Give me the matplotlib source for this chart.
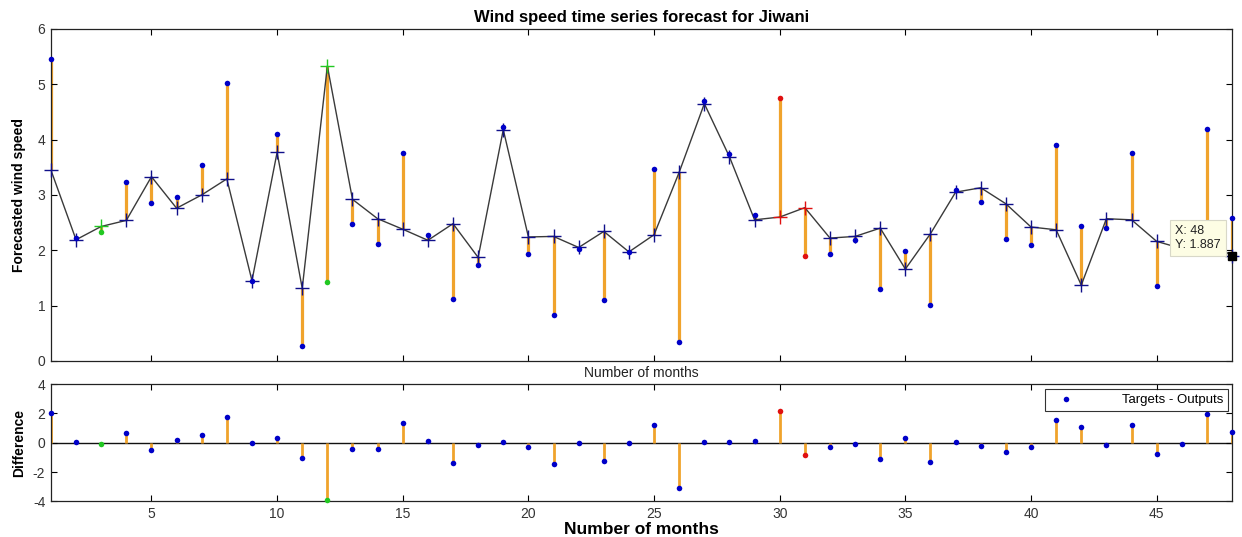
import numpy as np
import matplotlib
matplotlib.use('Agg')
import matplotlib.pyplot as plt
from matplotlib.lines import Line2D

plt.rcParams['font.family'] = ['Liberation Sans', 'DejaVu Sans']
plt.rcParams['axes.unicode_minus'] = False

# Monthly targets vs network outputs
months = np.arange(1, 49)
targets = [5.46, 2.23, 2.33, 3.24, 2.85, 2.97, 3.55, 5.02, 1.45, 4.10,
           0.26, 1.42, 2.48, 2.12, 3.76, 2.28, 1.12, 1.73, 4.23, 1.93,
           0.83, 2.03, 1.10, 1.96, 3.47, 0.34, 4.70, 3.74, 2.64, 4.76,
           1.90, 1.93, 2.19, 1.30, 1.99, 1.01, 3.09, 2.88, 2.20, 2.10,
           3.91, 2.43, 2.40, 3.76, 1.36, 1.96, 4.20, 2.59]
outputs = [3.45, 2.19, 2.43, 2.54, 3.33, 2.76, 3.00, 3.29, 1.45, 3.77,
           1.31, 5.33, 2.92, 2.57, 2.38, 2.18, 2.48, 1.87, 4.18, 2.24,
           2.25, 2.05, 2.34, 1.97, 2.28, 3.41, 4.65, 3.69, 2.55, 2.60,
           2.77, 2.22, 2.25, 2.40, 1.66, 2.30, 3.05, 3.13, 2.84, 2.42,
           2.37, 1.37, 2.57, 2.55, 2.16, 2.03, 2.23, 1.887]
# sample sets: train / validation / test
validation_months = [3, 12]
test_months = [30, 31]

x_ticks = [5, 10, 15, 20, 25, 30, 35, 40, 45]
top_y_ticks = [0, 1, 2, 3, 4, 5, 6]
bottom_y_ticks = [-4, -2, 0, 2, 4]

targets = np.array(targets)
outputs = np.array(outputs)
diff = targets - outputs

BLUE = '#0000c8'
NAVY = '#10108a'
GREEN = '#22c822'
RED = '#e01010'
ORANGE = '#f0a32c'
TICK_COLOR = '#333333'

colors = []
for m in months:
    if m in validation_months:
        colors.append(GREEN)
    elif m in test_months:
        colors.append(RED)
    else:
        colors.append(None)

fig = plt.figure(figsize=(12.42, 5.37), dpi=100)
ax1 = fig.add_axes([0.041, 0.328, 0.951, 0.618])
ax2 = fig.add_axes([0.041, 0.0665, 0.951, 0.218])


def style_axes(ax):
    ax.set_xlim(1, 48)
    ax.set_xticks(x_ticks)
    ax.tick_params(direction='in', top=True, right=True, length=4,
                   width=0.8, labelsize=10, labelcolor=TICK_COLOR, pad=4)
    for sp in ax.spines.values():
        sp.set_linewidth(0.9)
        sp.set_color('#222222')


# ---- top panel: targets vs outputs ----
ax1.vlines(months, targets, outputs, color=ORANGE, lw=2.3, zorder=1)
ax1.plot(months, outputs, color='#3a3a3a', lw=1.0, zorder=2)
for m, t, o, c in zip(months, targets, outputs, colors):
    ax1.plot(m, o, marker='+', ms=10, mew=1.0, color=c or NAVY,
             zorder=3, clip_on=False)
    ax1.plot(m, t, marker='o', ms=4, mew=0, color=c or BLUE,
             zorder=4, clip_on=False)

style_axes(ax1)
ax1.set_ylim(0, 6)
ax1.set_yticks(top_y_ticks)
ax1.tick_params(labelbottom=False)
ax1.set_title('Wind speed time series forecast for Jiwani',
              fontsize=12, fontweight='bold', pad=5)
ax1.set_ylabel('Forecasted wind speed', fontsize=10, fontweight='bold',
               labelpad=8)
ax1.set_xlabel('Number of months', fontsize=10, color='#222222', labelpad=4)

# datatip at the last output
ax1.plot(48, outputs[-1], marker='s', ms=6, color='black', zorder=6,
         clip_on=False)
ax1.annotate('X: 48\nY: 1.887', xy=(48, outputs[-1]),
             xytext=(-11, 5), textcoords='offset pixels',
             ha='right', va='bottom', multialignment='left',
             fontsize=9, color='#222222', linespacing=1.25,
             bbox=dict(boxstyle='square,pad=0.4', fc='#fdfde4',
                       ec='#d8d8c8', lw=0.8), zorder=7)

# ---- bottom panel: error ----
ax2.axhline(0, color='#111111', lw=1.0, zorder=1)
ax2.vlines(months, 0, diff, color=ORANGE, lw=2.0, zorder=2)
for m, d, c in zip(months, diff, colors):
    ax2.plot(m, d, marker='o', ms=4, mew=0, color=c or BLUE,
             zorder=3, clip_on=False)

style_axes(ax2)
ax2.set_ylim(-4, 4)
ax2.set_yticks(bottom_y_ticks)
ax2.set_ylabel('Difference', fontsize=10, fontweight='bold', labelpad=5)
ax2.set_xlabel('Number of months', fontsize=12.5, fontweight='bold',
               labelpad=1)

handle = Line2D([], [], ls='none', marker='o', ms=4, mew=0, color=BLUE)
leg = ax2.legend([handle], ['Targets - Outputs'], loc='upper right',
                 bbox_to_anchor=(0.9965, 0.955), fontsize=9.5,
                 frameon=True, fancybox=False, borderpad=0.35,
                 handletextpad=3.0, handlelength=2.5, borderaxespad=0)
leg.get_frame().set_edgecolor('black')
leg.get_frame().set_linewidth(0.8)

fig.savefig('out.png', dpi=100)
